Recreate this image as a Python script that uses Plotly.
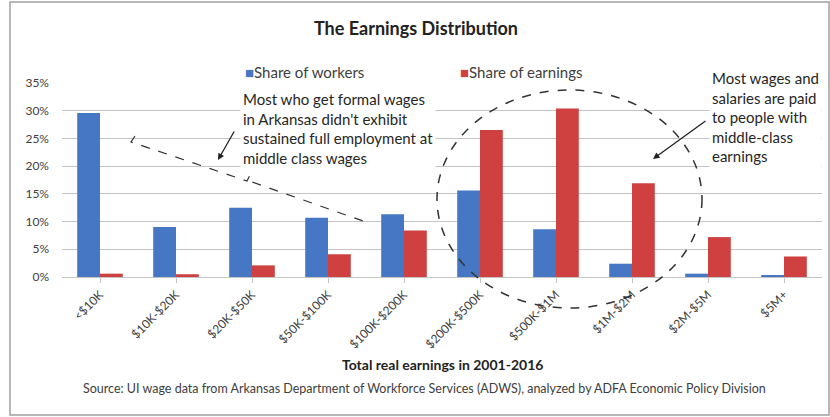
import plotly.graph_objects as go

categories = ["<$10K", "$10K-$20K", "$20K-$50K", "$50K-$100K", "$100K-$200K",
              "$200K-$500K", "$500K-$1M", "$1M-$2M", "$2M-$5M", "$5M+"]
share_workers = [0.296, 0.090, 0.125, 0.107, 0.113, 0.156, 0.086, 0.024, 0.006, 0.002]
share_earnings = [0.006, 0.005, 0.021, 0.041, 0.084, 0.265, 0.304, 0.169, 0.072, 0.037]

BLUE = "#4677c4"
RED = "#cf4141"
FONT = "Lato, sans-serif"

# plot area in pixels: x 62..822, y 83..277
L, R, T, B = 62, 8, 83, 140
W, H = 830 - L - R, 417 - T - B


def px(x):
    return (x - L) / W


def py(y):
    return (417 - B - y) / H


fig = go.Figure()
fig.add_trace(go.Bar(x=categories, y=share_workers, name="Share of workers",
                     marker=dict(color=BLUE, line=dict(width=0))))
fig.add_trace(go.Bar(x=categories, y=share_earnings, name="Share of earnings",
                     marker=dict(color=RED, line=dict(width=0))))

fig.update_layout(
    width=830, height=417,
    margin=dict(l=L, r=R, t=T, b=B),
    paper_bgcolor="white", plot_bgcolor="white",
    font=dict(family=FONT, color="#404040"),
    bargap=0.40, bargroupgap=0,
    showlegend=False,
    title=dict(text="<b>The Earnings Distribution</b>", x=px(416), xref="paper",
               xanchor="center", y=1 - 29 / 417, yanchor="middle",
               font=dict(size=18, color="#222222", family=FONT)),
)
fig.update_yaxes(range=[0, 0.35], dtick=0.05, tickformat=".0%", showgrid=True,
                 gridcolor="#c4c4c4", gridwidth=1, zeroline=False,
                 showline=False, tickfont=dict(size=12, color="#404040"),
                 ticks="", ticklabelstandoff=12, fixedrange=True)
fig.update_xaxes(tickangle=-45, tickfont=dict(size=12, color="#404040"),
                 showline=True, linecolor="#c4c4c4", ticks="outside",
                 ticklen=5, tickcolor="#c4c4c4", showgrid=False)

# legend drawn as text with coloured squares
fig.add_annotation(xref="paper", yref="paper", x=px(243), y=py(61), xanchor="left",
                   showarrow=False,
                   text=f"<span style='color:{BLUE}'>■</span>Share of workers",
                   font=dict(size=15, color="#404040"))
fig.add_annotation(xref="paper", yref="paper", x=px(458), y=py(61), xanchor="left",
                   showarrow=False,
                   text=f"<span style='color:{RED}'>■</span>Share of earnings",
                   font=dict(size=15, color="#404040"))

# chart border
fig.add_shape(type="rect", xref="paper", yref="paper",
              x0=px(10), x1=px(829), y0=py(415), y1=py(2),
              line=dict(color="#a0a0a0", width=1.5), layer="below")

# dashed ellipse around the middle-class bars
fig.add_shape(type="circle", xref="paper", yref="paper",
              x0=px(437), x1=px(702), y0=py(308), y1=py(90),
              line=dict(color="#333333", width=1.5, dash="dash"))

# brace over the low earnings groups
brace = (f"M {px(135)},{py(136)} L {px(131)},{py(142)} L {px(247)},{py(181)} "
         f"L {px(250)},{py(175)} L {px(252)},{py(182)} L {px(363)},{py(221)} "
         f"L {px(362)},{py(228)}")
fig.add_shape(type="path", xref="paper", yref="paper", path=brace,
              line=dict(color="#333333", width=1.2, dash="dash"))

fig.add_annotation(xref="paper", yref="paper", x=px(240), y=py(87),
                   xanchor="left", yanchor="top", align="left", showarrow=False,
                   text="Most who get formal wages<br>in Arkansas didn't exhibit<br>"
                        "sustained full employment at<br>middle class wages",
                   font=dict(size=15, color="#262626"), bgcolor="white", borderpad=2)
fig.add_annotation(xref="paper", yref="paper", x=px(709), y=py(66),
                   xanchor="left", yanchor="top", align="left", showarrow=False,
                   text="Most wages and<br>salaries are paid<br>to people with<br>"
                        "middle-class<br>earnings",
                   font=dict(size=15, color="#262626"), bgcolor="white", borderpad=2)

# arrows
fig.add_annotation(xref="paper", yref="paper", x=px(218), y=py(160), text="",
                   showarrow=True, ax=17, ay=-30, arrowhead=2, arrowsize=1,
                   arrowwidth=1.3, arrowcolor="#222222")
fig.add_annotation(xref="paper", yref="paper", x=px(653), y=py(159), text="",
                   showarrow=True, ax=54, ay=-39, arrowhead=2, arrowsize=1,
                   arrowwidth=1.3, arrowcolor="#222222")

# axis title and source
fig.add_annotation(xref="paper", yref="paper", x=px(442), y=py(375),
                   showarrow=False, text="<b>Total real earnings in 2001-2016</b>",
                   font=dict(size=14, color="#222222"))
fig.add_annotation(xref="paper", yref="paper", x=px(424), y=py(398),
                   showarrow=False,
                   text="Source: UI wage data from Arkansas Department of Workforce Services "
                        "(ADWS), analyzed by ADFA Economic Policy Division",
                   font=dict(size=12.5, color="#404040"))

fig.write_html("out.html", config={"displayModeBar": False},
               post_script="document.body.style.margin='0';")
